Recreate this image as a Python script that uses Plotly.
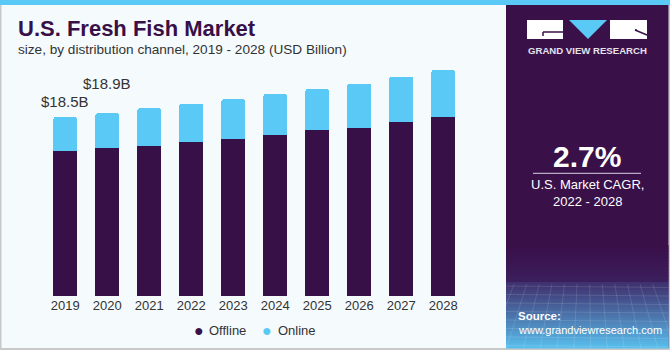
import plotly.graph_objects as go

years = ["2019", "2020", "2021", "2022", "2023", "2024", "2025", "2026", "2027", "2028"]
offline = [15.02, 15.33, 15.53, 15.88, 16.26, 16.67, 17.16, 17.39, 17.98, 18.50]
online = [3.48, 3.57, 3.87, 3.99, 4.07, 4.21, 4.23, 4.55, 4.68, 4.86]
label_years = ["2019", "2020"]
label_texts = ["$18.5B", "$18.9B"]

PURPLE = "#381048"
BLUE = "#5BC9F5"
BG = "#F5FAFD"
TXT = "#333333"
W, H = 670, 350

def px(x):
    return x / W

def py(y):
    return 1 - y / H

fig = go.Figure()
fig.add_trace(go.Bar(x=years, y=offline, name="Offline", marker=dict(color=PURPLE, line=dict(width=0)),
                     width=0.571, showlegend=False))
fig.add_trace(go.Bar(x=years, y=online, name="Online", marker=dict(color=BLUE, line=dict(width=0), cornerradius=3),
                     width=0.571, showlegend=False))

totals = [a + b for a, b in zip(offline, online)]
shifts = [15, 30]
annotations = []
for yr, txt, sh in zip(label_years, label_texts, shifts):
    i = years.index(yr)
    annotations.append(dict(x=i, y=totals[i], xref="x", yref="y", text=txt, showarrow=False,
                            yanchor="middle", yshift=sh, font=dict(size=15, color=TXT, family="Liberation Sans")))

def ann(x, y, text, size, color, bold=False, xanchor="left", yanchor="middle", family="Liberation Sans"):
    annotations.append(dict(x=px(x), y=py(y), xref="paper", yref="paper", text=("<b>%s</b>" % text) if bold else text,
                            showarrow=False, xanchor=xanchor, yanchor=yanchor,
                            font=dict(size=size, color=color, family=family)))

ann(16, 29, "U.S. Fresh Fish Market", 22, PURPLE, bold=True)
ann(16, 49.5, "size, by distribution channel, 2019 - 2028 (USD Billion)", 13.6, TXT)

# legend (manual)
ann(199, 330, "●", 16, PURPLE, xanchor="center")
ann(207, 330, "Offline", 13, TXT)
ann(267, 330, "●", 16, BLUE, xanchor="center")
ann(276, 330, "Online", 13, TXT)

# right panel texts
ann(587, 51, "GRAND VIEW RESEARCH", 9.6, "#E6E3EC", bold=True, xanchor="center")
ann(587, 156, "2.7%", 30, "white", bold=True, xanchor="center")
ann(587, 184, "U.S. Market CAGR,", 13, "white", xanchor="center")
ann(587, 201, "2022 - 2028", 13, "white", xanchor="center")
ann(516, 316, "Source:", 11.5, "white", bold=True)
ann(516, 329.5, "www.grandviewresearch.com", 11, "white")

shapes = []

def rect(x0, y0, x1, y1, color, layer="below", line=None):
    shapes.append(dict(type="rect", xref="paper", yref="paper", x0=px(x0), x1=px(x1), y0=py(y1), y1=py(y0),
                       fillcolor=color, line=dict(width=0) if line is None else line, layer=layer))

# borders and top stripe
rect(0, 0, 670, 350, "#C8C8C8")
rect(1.5, 0, 668.5, 348, BG)
rect(0, 0, 670, 5, BLUE)
# right panel
rect(506, 5, 668.5, 348, "#3A1049")

def lerp(c1, c2, t):
    a = [int(c1[i:i + 2], 16) for i in (1, 3, 5)]
    b = [int(c2[i:i + 2], 16) for i in (1, 3, 5)]
    return "#%02x%02x%02x" % tuple(int(round(a[k] + (b[k] - a[k]) * t)) for k in range(3))

n1 = 12
for k in range(n1):
    y0 = 245 + k * (282 - 245) / n1
    y1 = 245 + (k + 1) * (282 - 245) / n1
    rect(506, y0, 668.5, y1 + 0.5, lerp("#3A1049", "#3B1F5C", k / (n1 - 1)))
n2 = 33
for k in range(n2):
    y0 = 282 + k * (348 - 282) / n2
    y1 = 282 + (k + 1) * (348 - 282) / n2
    rect(506, y0, 668.5, y1 + 0.5, lerp("#3F3270", "#58BDEC", (k / (n2 - 1)) ** 1.1))

# faint grid pattern in bottom area
for k in range(12):
    xx = 506 + k * 14
    shapes.append(dict(type="line", xref="paper", yref="paper", x0=px(xx + (xx - 587) * 0.2), x1=px(xx - (xx - 587) * 0.1),
                       y0=py(348), y1=py(284), line=dict(color="rgba(255,255,255,0.12)", width=1), layer="below"))
for k in range(8):
    yy = 286 + k * 8.5
    shapes.append(dict(type="line", xref="paper", yref="paper", x0=px(506), x1=px(668.5),
                       y0=py(yy), y1=py(yy + 1.5), line=dict(color="rgba(255,255,255,0.12)", width=1), layer="below"))

# logo
rect(527, 20, 563, 39, "white")
shapes.append(dict(type="path", xref="paper", yref="paper",
                   path="M %f %f L %f %f L %f %f Z" % (px(569), py(20), px(607), py(20), px(588), py(39)),
                   fillcolor=BLUE, line=dict(width=0), layer="below"))
rect(610, 20, 647, 39, "white")
shapes.append(dict(type="line", xref="paper", yref="paper", x0=px(543), x1=px(563), y0=py(32), y1=py(32),
                   line=dict(color="#3A1049", width=1.5), layer="below"))
shapes.append(dict(type="line", xref="paper", yref="paper", x0=px(543), x1=px(543), y0=py(32), y1=py(36),
                   line=dict(color="#3A1049", width=1.5), layer="below"))
shapes.append(dict(type="line", xref="paper", yref="paper", x0=px(635), x1=px(647), y0=py(30), y1=py(35),
                   line=dict(color="#3A1049", width=1.5), layer="below"))
shapes.append(dict(type="line", xref="paper", yref="paper", x0=px(635), x1=px(637), y0=py(30), y1=py(30),
                   line=dict(color="#3A1049", width=1.5), layer="below"))
# divider line under 2.7%
shapes.append(dict(type="line", xref="paper", yref="paper", x0=px(533), x1=px(641), y0=py(173.3), y1=py(173.3),
                   line=dict(color="#D8D2E0", width=1), layer="above"))

fig.update_layout(
    width=W, height=H, margin=dict(l=0, r=0, t=0, b=0),
    paper_bgcolor=BG, plot_bgcolor="rgba(0,0,0,0)",
    barmode="stack", showlegend=False,
    xaxis=dict(type="category", domain=[px(44.3), px(464.3)], range=[-0.5, 9.5], showgrid=False, zeroline=False,
               showline=False, ticks="", tickfont=dict(size=13, color=TXT, family="Liberation Sans"), fixedrange=True),
    yaxis=dict(domain=[py(296), py(60)], range=[0, (296 - 60) / 9.676], visible=False, fixedrange=True),
    shapes=shapes, annotations=annotations,
    font=dict(family="Liberation Sans"),
)

fig.write_html("out.html", config=dict(displayModeBar=False))
